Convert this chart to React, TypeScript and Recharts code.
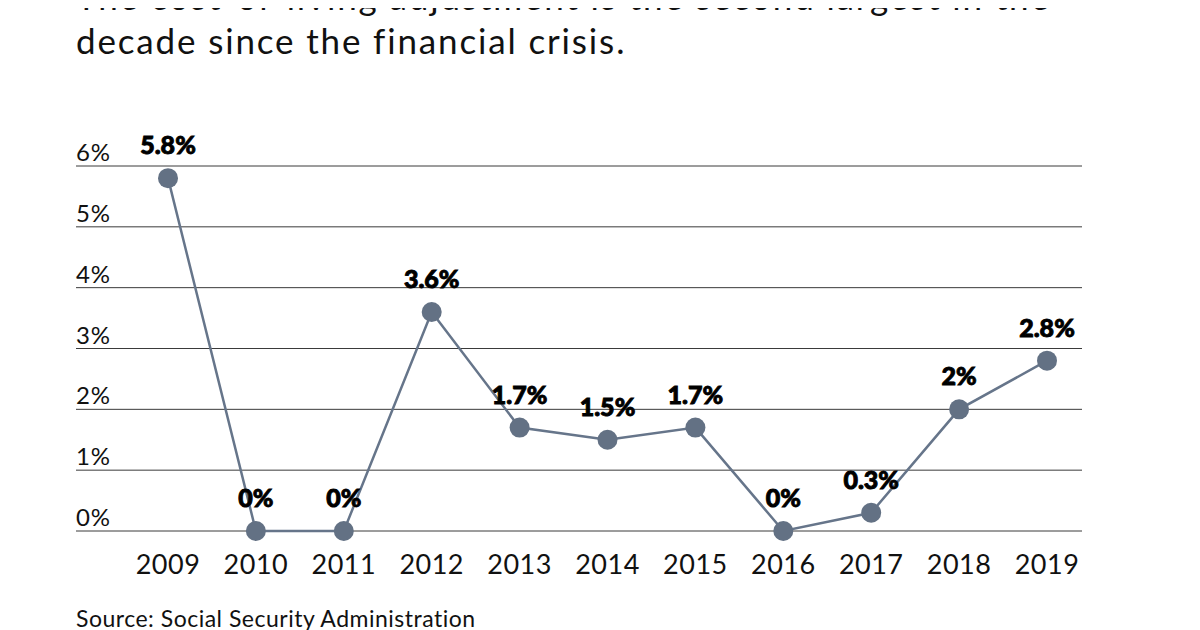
import React from "react";
import { LineChart, Line, XAxis, YAxis, CartesianGrid, LabelList } from "recharts";

const years = ["2009", "2010", "2011", "2012", "2013", "2014", "2015", "2016", "2017", "2018", "2019"];
const cola = [5.8, 0, 0, 3.6, 1.7, 1.5, 1.7, 0, 0.3, 2, 2.8];
const yTicks = [0, 1, 2, 3, 4, 5, 6];
const titleLines = [
  "The cost-of-living adjustment is the second largest in the",
  "decade since the financial crisis.",
];
const source = "Source: Social Security Administration";

const data = years.map((y, i) => ({ year: y, value: cola[i] }));

const FONT = "Lato, 'Open Sans', sans-serif";
const LINE_COLOR = "#66758a";
const DOT_COLOR = "#637184";

const YTick = (props: any) => {
  const { y, payload } = props;
  return (
    <text x={68} y={y - 5} textAnchor="start" fontFamily={FONT} fontSize={24} letterSpacing={0.8} fill="#111">
      {payload.value}%
    </text>
  );
};

const XTick = (props: any) => {
  const { x, y, payload } = props;
  return (
    <text x={x} y={y + 35} textAnchor="middle" fontFamily={FONT} fontSize={27} letterSpacing={0.5} fill="#111">
      {payload.value}
    </text>
  );
};

const ValueLabel = (props: any) => {
  const { x, y, value } = props;
  return (
    <text
      x={x}
      y={y - 24}
      textAnchor="middle"
      fontFamily={FONT}
      fontSize={25}
      fontWeight={900}
      stroke="#000"
      strokeWidth={0.9}
      fill="#000"
    >
      {value}%
    </text>
  );
};

export default function App() {
  return (
    <div style={{ position: "relative", width: 1184, height: 622, overflow: "hidden", background: "#fff" }}>
      <div
        style={{
          position: "absolute",
          left: 68,
          top: -34,
          fontFamily: FONT,
          fontSize: 35,
          lineHeight: "44px",
          letterSpacing: 1.85,
          color: "#111",
          whiteSpace: "nowrap",
        }}
      >
        {titleLines.map((t) => (
          <div key={t}>{t}</div>
        ))}
      </div>
      <div style={{ position: "absolute", left: 0, top: 0 }}>
        <LineChart width={1184} height={622} data={data} margin={{ top: 158, right: 110, bottom: 59, left: 0 }}>
          <CartesianGrid vertical={false} stroke="#3a3a3a" strokeWidth={1} />
          <XAxis
            dataKey="year"
            axisLine={false}
            tickLine={false}
            padding={{ left: 92, right: 35 }}
            tick={<XTick />}
            height={40}
            interval={0}
          />
          <YAxis
            domain={[0, 6]}
            ticks={yTicks}
            axisLine={false}
            tickLine={false}
            width={68}
            tick={<YTick />}
          />
          <Line
            type="linear"
            dataKey="value"
            stroke={LINE_COLOR}
            strokeWidth={2.5}
            dot={{ r: 10, fill: DOT_COLOR, stroke: "none", strokeWidth: 0 }}
            isAnimationActive={false}
          >
            <LabelList dataKey="value" content={<ValueLabel />} />
          </Line>
        </LineChart>
      </div>
      <div
        style={{
          position: "absolute",
          left: 68,
          top: 596,
          fontFamily: FONT,
          fontSize: 23,
          lineHeight: "28px",
          color: "#111",
          whiteSpace: "nowrap",
          letterSpacing: 0.5,
        }}
      >
        {source}
      </div>
    </div>
  );
}
